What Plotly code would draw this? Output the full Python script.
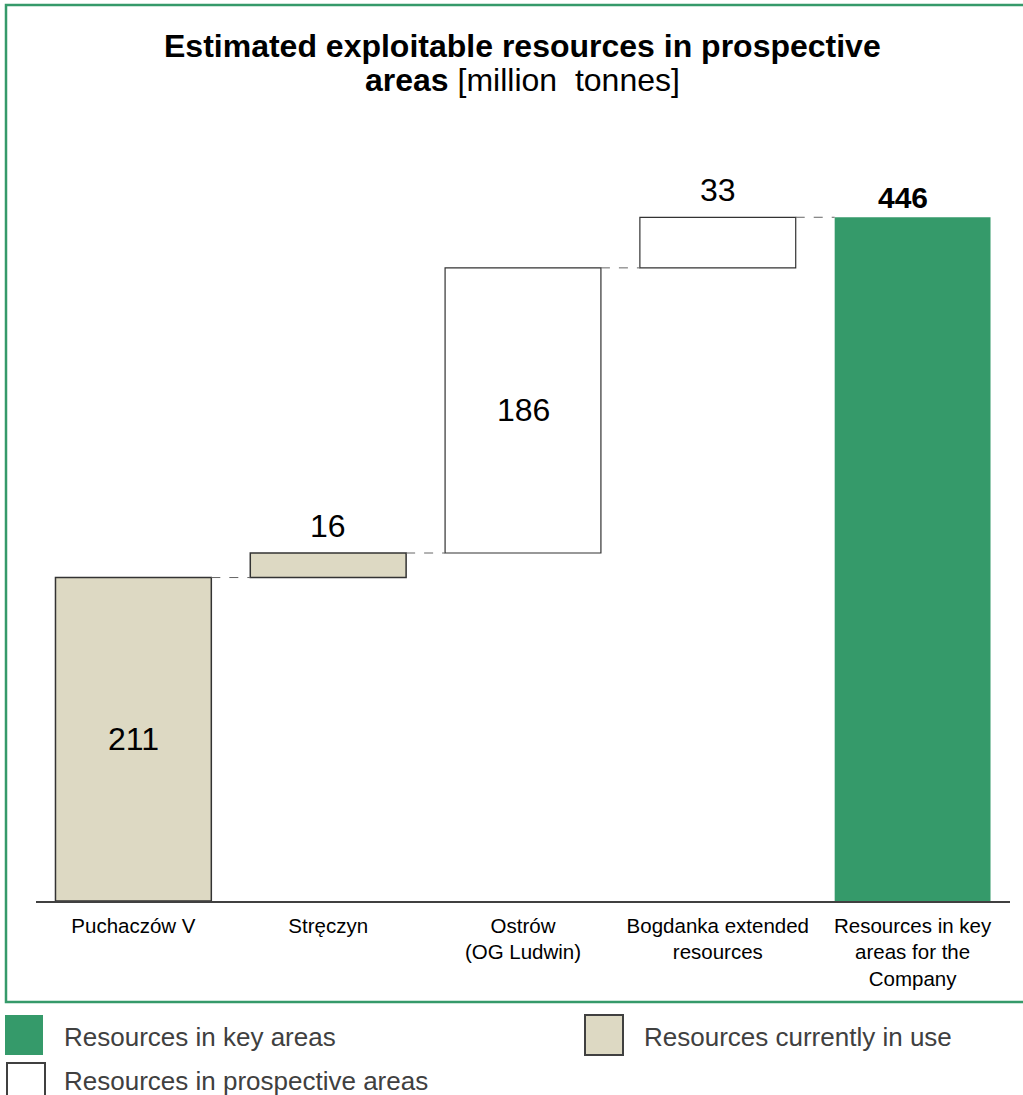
import numpy as np
import plotly.graph_objects as go

# --- data -------------------------------------------------------------
categories = [
    "Puchaczów V",
    "Stręczyn",
    "Ostrów<br>(OG Ludwin)",
    "Bogdanka extended<br>resources",
    "Resources in key<br>areas for the<br>Company",
]
values = [211, 16, 186, 33, 446]          # million tonnes
kinds = ["in_use", "in_use", "prospective", "prospective", "total"]
label_inside = [True, False, True, False, False]

title_lines = [
    "<b>Estimated exploitable resources in prospective</b>",
    "<b>areas</b> [million\u00a0 tonnes]",
]

legend_items = [
    ("total", "Resources in key areas"),
    ("in_use", "Resources currently in use"),
    ("prospective", "Resources in prospective areas"),
]

# --- styling ------------------------------------------------------------
GREEN = "#359a6a"
TAN = "#ddd9c3"
EDGE = "#333333"
FILL = {"total": GREEN, "in_use": TAN, "prospective": "#ffffff"}
EDGE_W = {"total": 0, "in_use": 1.5, "prospective": 1.2}

W, H = 1023, 1095
ML, MR, MT, MB = 36, 13, 150, 194
PX_PER_UNIT = 1.533
YMAX = (H - MT - MB) / PX_PER_UNIT

# waterfall geometry: steps float on the running total, the last bar is the total
x = np.arange(len(values))
bases, tops = [], []
running = 0
for v, k in zip(values, kinds):
    if k == "total":
        bases.append(0)
        tops.append(v)
    else:
        bases.append(running)
        running += v
        tops.append(running)
heights = [t - b for t, b in zip(tops, bases)]

fig = go.Figure()
fig.add_trace(go.Bar(
    x=x, y=heights, base=bases, width=0.8,
    marker=dict(color=[FILL[k] for k in kinds],
                line=dict(color=EDGE, width=[EDGE_W[k] for k in kinds])),
    hoverinfo="skip", showlegend=False,
))

# dashed connectors between consecutive bars
shapes = []
for i in range(len(values) - 1):
    shapes.append(dict(type="line", xref="x", yref="y",
                       x0=i + 0.4, x1=i + 0.6, y0=tops[i], y1=tops[i],
                       line=dict(color="#666666", width=1, dash="dash")))

# value labels
annotations = []
for i, (v, k, inside) in enumerate(zip(values, kinds, label_inside)):
    txt = f"<b>{v}</b>" if k == "total" else str(v)
    if inside:
        annotations.append(dict(x=i, y=(bases[i] + tops[i]) / 2, xref="x", yref="y",
                                text=txt, showarrow=False, yanchor="middle",
                                font=dict(size=32, color="#000000")))
    else:
        annotations.append(dict(x=i, y=tops[i], xref="x", yref="y",
                                text=txt, showarrow=False, yanchor="middle",
                                yshift=20 if k == "total" else 27,
                                xshift=-10 if k == "total" else 0,
                                font=dict(size=30 if k == "total" else 32,
                                          color="#000000")))

# helpers to place the frame, title and key in pixel terms
PW = W - ML - MR
PH = H - MT - MB


def px(xp):
    return (xp - ML) / PW


def py(yp):
    return (H - MB - yp) / PH


# two-line heading with tight line spacing
for line, yc in zip(title_lines, (46, 80)):
    annotations.append(dict(x=px(522), y=py(yc), xref="paper", yref="paper",
                            text=line, showarrow=False, xanchor="center",
                            yanchor="middle",
                            font=dict(size=32, color="#000000")))

# outer frame around chart
shapes.append(dict(type="rect", xref="paper", yref="paper",
                   x0=px(6), x1=px(1030), y0=py(1002), y1=py(5),
                   line=dict(color=GREEN, width=2.5), fillcolor="rgba(0,0,0,0)"))

# key below the frame
key_pos = {
    "total": (5, 1015, 62, 1037),
    "in_use": (585, 1015, 642, 1037),
    "prospective": (7, 1063, 62, 1081),
}
for k, text in legend_items:
    sx, sy, tx, ty = key_pos[k]
    shapes.append(dict(type="rect", xref="paper", yref="paper",
                       x0=px(sx), x1=px(sx + 38), y0=py(sy + 40), y1=py(sy),
                       fillcolor=FILL[k],
                       line=dict(color="#404040" if k != "total" else GREEN,
                                 width=2 if k != "total" else 0)))
    annotations.append(dict(x=px(tx), y=py(ty), xref="paper", yref="paper",
                            text=text, showarrow=False, xanchor="left",
                            yanchor="middle",
                            font=dict(size=26, color="#404040")))

fig.update_layout(
    width=W, height=H,
    margin=dict(l=ML, r=MR, t=MT, b=MB),
    paper_bgcolor="#ffffff", plot_bgcolor="#ffffff",
    font=dict(family="Liberation Sans, Arial, sans-serif", color="#000000"),
    xaxis=dict(
        range=[-0.5, len(values) - 0.5],
        tickvals=x, ticktext=categories,
        showline=True, linecolor="#404040", linewidth=2,
        showgrid=False, zeroline=False, ticks="",
        tickfont=dict(size=20.5, color="#000000"),
        ticklabelstandoff=5,
        fixedrange=True,
    ),
    yaxis=dict(range=[0, YMAX], visible=False, fixedrange=True),
    bargap=0.2,
    shapes=shapes,
    annotations=annotations,
)

fig.write_html("out.html")
